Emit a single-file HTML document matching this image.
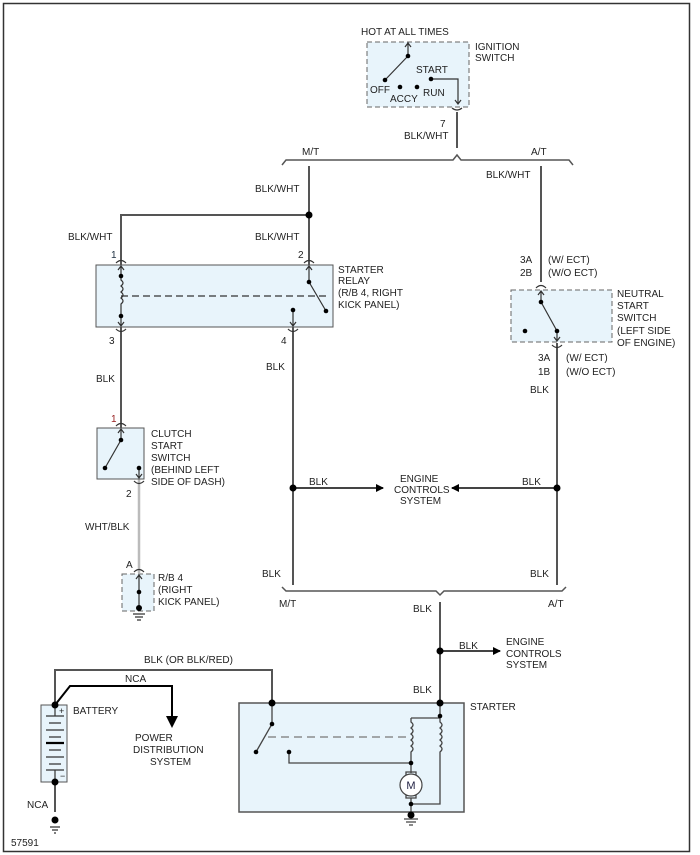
<!DOCTYPE html>
<html><head><meta charset="utf-8"><style>
html,body{margin:0;padding:0;background:#fff}
svg{display:block}
text{font-family:"Liberation Sans",sans-serif;font-size:10px;fill:#222}
</style></head><body>
<svg width="700" height="855" viewBox="0 0 700 855" xmlns="http://www.w3.org/2000/svg">
<defs>
<marker id="ah" markerWidth="8" markerHeight="8" refX="7" refY="4" orient="auto" markerUnits="userSpaceOnUse"><path d="M0,0 L8,4 L0,8 Z" fill="#000"/></marker>
</defs>
<rect x="3.5" y="3.5" width="686" height="848" fill="none" stroke="#333" stroke-width="1.5"/>

<g fill="none" stroke="#555" stroke-width="2">
<path d="M457,112 V148"/>
<path d="M282,165 L286,160 H453 L457,155 L461,160 H569 L573,165" stroke-width="1.5"/>
<path d="M309,166 V265"/>
<path d="M121,265 V215 H309"/>
<path d="M541,166 V282"/>
<path d="M121,327 V428"/>
<path d="M293,327 V585"/>
<path d="M557,343 V585"/>
<path d="M282,587 L286,591 H436 L440,595 L444,591 H562 L566,587" stroke-width="1.5"/>
<path d="M440,602 V703"/>
<path d="M55,705 V670 H272 V703"/>
<path d="M55,782 V812"/>
</g>
<path d="M139,479 V573" stroke="#bbb" stroke-width="2.5" fill="none"/>
<path d="M55,705 L70,686 H172 V718" stroke="#000" stroke-width="2" fill="none"/>
<path d="M172,728 l-6,-12 h12z" fill="#000"/>
<path d="M293,488 H383" stroke="#444" stroke-width="2" marker-end="url(#ah)"/>
<path d="M557,488 H452" stroke="#444" stroke-width="2" marker-end="url(#ah)"/>
<path d="M440,651 H500" stroke="#444" stroke-width="2" marker-end="url(#ah)"/>
<g fill="#000"><circle cx="309" cy="215" r="3.5"/><circle cx="293" cy="488" r="3.5"/><circle cx="557" cy="488" r="3.5"/><circle cx="440" cy="651" r="3.5"/></g>

<rect x="367" y="42" width="102" height="65" fill="#e8f4fb" stroke="#666" stroke-dasharray="5,3"/>
<g stroke="#333" stroke-width="1.2" fill="none">
<path d="M408,42 V56 M405,47 L408,43 L411,47"/>
<path d="M408,56 L385,80"/>
<path d="M431,79 H458 V104 M455,100 L458,104 L461,100"/>
<path d="M452,108 q5,4 10,0"/>
</g>
<g fill="#000"><circle cx="408" cy="56" r="2.3"/><circle cx="385" cy="80" r="2.3"/><circle cx="400" cy="87" r="2.3"/><circle cx="417" cy="87" r="2.3"/><circle cx="431" cy="79" r="2.3"/></g>

<rect x="96" y="265" width="237" height="62" fill="#e8f4fb" stroke="#555"/>
<g stroke="#333" stroke-width="1.2" fill="none">
<path d="M116,263 q5,-5 10,0 M304,263 q5,-5 10,0"/>
<path d="M116,329 q5,5 10,0 M288,329 q5,5 10,0"/>
<path d="M121,266 V276 M118,270 L121,266 L124,270"/>
<path d="M121,276 v4 q4,3 0,6 q4,3 0,6 q4,3 0,6 q4,3 0,6 v4 V326 M118,322 L121,326 L124,322"/>
<path d="M121,296 H326" stroke-dasharray="7,4"/>
<path d="M309,266 V282 M306,270 L309,266 L312,270 M309,282 L326,311"/>
<path d="M293,310 V326 M290,322 L293,326 L296,322"/>
</g>
<g fill="#000"><circle cx="121" cy="276" r="2.3"/><circle cx="121" cy="316" r="2.3"/><circle cx="309" cy="282" r="2.3"/><circle cx="326" cy="311" r="2.3"/><circle cx="293" cy="310" r="2.3"/></g>

<rect x="511" y="290" width="101" height="52" fill="#e8f4fb" stroke="#666" stroke-dasharray="5,3"/>
<g stroke="#333" stroke-width="1.2" fill="none">
<path d="M536,288 q5,-5 10,0 M552,345 q5,5 10,0"/>
<path d="M541,291 V302 M538,295 L541,291 L544,295 M541,302 L557,331 V341 M554,337 L557,341 L560,337"/>
</g>
<g fill="#000"><circle cx="541" cy="302" r="2.3"/><circle cx="557" cy="331" r="2.3"/><circle cx="525" cy="331" r="2.3"/></g>

<rect x="97" y="428" width="47" height="51" fill="#e8f4fb" stroke="#555"/>
<g stroke="#333" stroke-width="1.2" fill="none">
<path d="M116,426 q5,-5 10,0 M134,481 q5,5 10,0"/>
<path d="M121,429 V440 M118,433 L121,429 L124,433 M121,440 L105,468"/>
<path d="M139,468 V478 M136,474 L139,478 L142,474"/>
</g>
<g fill="#000"><circle cx="121" cy="440" r="2.3"/><circle cx="105" cy="468" r="2.3"/><circle cx="139" cy="468" r="2.3"/></g>

<rect x="122" y="574" width="32" height="37" fill="#e8f4fb" stroke="#666" stroke-dasharray="5,3"/>
<g stroke="#333" stroke-width="1.2" fill="none">
<path d="M134,572 q5,-5 10,0 M139,575 V611 M136,579 L139,575 L142,579"/>
<path d="M133,614 H145 M135,617 H143 M137,620 H141"/>
</g>
<g fill="#000"><circle cx="139" cy="592" r="2.3"/><circle cx="139" cy="608" r="3"/></g>

<rect x="41" y="705" width="26" height="77" fill="#e8f4fb" stroke="#555"/>
<g stroke="#333" stroke-width="1.2" fill="none">
<path d="M55,705 V716 M46,716 H64 M49,723 H61 M46,730 H64 M49,737 H61 M46,743 H64 M49,750 H61 M46,757 H64 M49,764 H61 M46,770 H64 M55,770 V782"/>
<path d="M50,827 H60 M52,830 H58 M54,833 H56"/>
</g>
<path d="M46,743 H64" stroke="#000" stroke-width="2.2"/>
<g fill="#000"><circle cx="55" cy="705" r="3.5"/><circle cx="55" cy="782" r="3.5"/><circle cx="55" cy="820" r="3.5"/></g>
<text x="59" y="714" style="font-size:9px">+</text><text x="60" y="779" style="font-size:9px">−</text>

<rect x="239" y="703" width="225" height="109" fill="#e8f4fb" stroke="#555" stroke-width="1.5"/>
<g stroke="#444" stroke-width="1.3" fill="none">
<path d="M272,703 V724 L256,752"/>
<path d="M289,752 V763 H411"/>
<path d="M411,718 H440 M411,718 v4 q4,3 0,6 q4,3 0,6 q4,3 0,6 q4,3 0,6 q4,3 0,6 V773"/>
<path d="M440,703 V718 v4 q4,3 0,6 q4,3 0,6 q4,3 0,6 q4,3 0,6 q4,3 0,6 V804 H411"/>
<path d="M268,737 H406" stroke="#777" stroke-dasharray="8,5"/>
<path d="M406,772 h10 v4 h-10z M406,794 h10 v4 h-10z"/>
<path d="M411,798 V815"/>
<path d="M404,819 H418 M406,822 H416 M409,825 H413"/>
</g>
<circle cx="411" cy="785" r="11" fill="#fff" stroke="#444" stroke-width="1.2"/>
<text x="411" y="789" text-anchor="middle" style="font-size:11px;fill:#224">M</text>
<g fill="#000"><circle cx="272" cy="703" r="3.5"/><circle cx="440" cy="703" r="3.5"/><circle cx="272" cy="724" r="2.3"/><circle cx="256" cy="752" r="2.3"/><circle cx="289" cy="752" r="2.3"/><circle cx="440" cy="716" r="2.3"/><circle cx="411" cy="763" r="2.3"/><circle cx="411" cy="804" r="2.3"/><circle cx="411" cy="815" r="3.5"/></g>

<text x="361" y="35">HOT AT ALL TIMES</text>
<text x="475" y="50">IGNITION</text><text x="475" y="61">SWITCH</text>
<text x="416" y="73">START</text>
<text x="370" y="93">OFF</text><text x="390" y="102">ACCY</text><text x="423" y="96">RUN</text>
<text x="440" y="127">7</text><text x="404" y="139">BLK/WHT</text>
<text x="302" y="155">M/T</text><text x="531" y="155">A/T</text>
<text x="255" y="192">BLK/WHT</text><text x="486" y="178">BLK/WHT</text>
<text x="68" y="240">BLK/WHT</text><text x="255" y="240">BLK/WHT</text>
<text x="111" y="258" style="fill:#234">1</text><text x="298" y="258">2</text>
<text x="338" y="273">STARTER</text><text x="338" y="284">RELAY</text><text x="338" y="296">(R/B 4, RIGHT</text><text x="338" y="308">KICK PANEL)</text>
<text x="520" y="263">3A</text><text x="548" y="263">(W/ ECT)</text>
<text x="520" y="276">2B</text><text x="548" y="276">(W/O ECT)</text>
<text x="617" y="297">NEUTRAL</text><text x="617" y="309">START</text><text x="617" y="321">SWITCH</text><text x="617" y="334">(LEFT SIDE</text><text x="617" y="346">OF ENGINE)</text>
<text x="538" y="361">3A</text><text x="566" y="361">(W/ ECT)</text>
<text x="538" y="375">1B</text><text x="566" y="375">(W/O ECT)</text>
<text x="530" y="393">BLK</text>
<text x="109" y="344">3</text><text x="281" y="344">4</text>
<text x="96" y="382">BLK</text><text x="266" y="370">BLK</text>
<text x="111" y="422" style="fill:#922">1</text>
<text x="151" y="437">CLUTCH</text><text x="151" y="449">START</text><text x="151" y="461">SWITCH</text><text x="151" y="473">(BEHIND LEFT</text><text x="151" y="485">SIDE OF DASH)</text>
<text x="126" y="497">2</text>
<text x="85" y="530">WHT/BLK</text>
<text x="126" y="568">A</text>
<text x="158" y="581">R/B 4</text><text x="158" y="593">(RIGHT</text><text x="158" y="605">KICK PANEL)</text>
<text x="309" y="485">BLK</text><text x="522" y="485">BLK</text>
<text x="400" y="482">ENGINE</text><text x="394" y="493">CONTROLS</text><text x="400" y="504">SYSTEM</text>
<text x="262" y="577">BLK</text><text x="530" y="577">BLK</text>
<text x="279" y="607">M/T</text><text x="548" y="607">A/T</text>
<text x="413" y="612">BLK</text>
<text x="459" y="649">BLK</text>
<text x="506" y="645">ENGINE</text><text x="506" y="657">CONTROLS</text><text x="506" y="668">SYSTEM</text>
<text x="144" y="663">BLK (OR BLK/RED)</text>
<text x="125" y="682">NCA</text>
<text x="413" y="693">BLK</text>
<text x="470" y="710">STARTER</text>
<text x="73" y="714">BATTERY</text>
<text x="135" y="741">POWER</text><text x="133" y="753">DISTRIBUTION</text><text x="150" y="765">SYSTEM</text>
<text x="27" y="808">NCA</text>
<text x="11" y="846">57591</text>
</svg>
</body></html>
